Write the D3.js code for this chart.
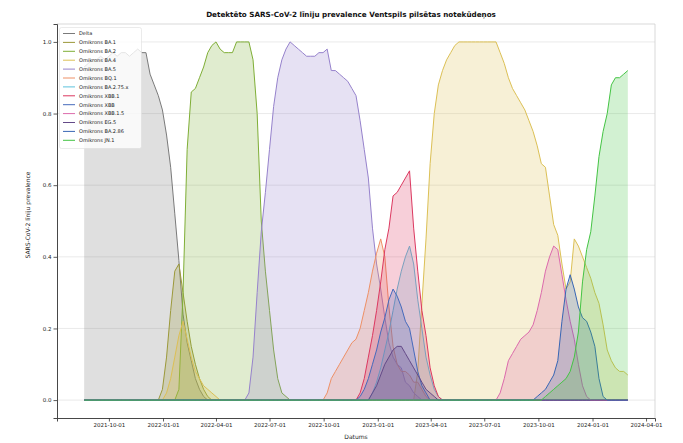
<!DOCTYPE html>
<html><head><meta charset="utf-8">
<script src="https://cdn.jsdelivr.net/npm/d3@7"></script>
<style>body{margin:0;background:#fff}svg{display:block;font-family:"DejaVu Sans",sans-serif}</style>
</head><body><svg id="c" width="683" height="443"></svg>
<script>
// ---- data ----
const titleText = "Detektēto SARS-CoV-2 līniju prevalence Ventspils pilsētas notekūdeņos";
const yLabelText = "SARS-CoV-2 līniju prevalence";
const xLabelText = "Datums";
const firstWeek = "2021-08-20";
const weekCount = 133;
const xTickLabels = ["2021-10-01","2022-01-01","2022-04-01","2022-07-01","2022-10-01","2023-01-01","2023-04-01","2023-07-01","2023-10-01","2024-01-01","2024-04-01"];
const yTicks = [0, 0.2, 0.4, 0.6, 0.8, 1.0];
const seriesNames = ["Delta","Omikrons BA.1","Omikrons BA.2","Omikrons BA.4","Omikrons BA.5","Omikrons BQ.1","Omikrons BA.2.75.x","Omikrons XBB.1","Omikrons XBB","Omikrons XBB.1.5","Omikrons EG.5","Omikrons BA.2.86","Omikrons JN.1"];
const seriesColors = ["#7a7a7a","#9c993a","#7fae36","#dcc055","#9682cc","#ee9066","#5cc2dc","#dc3860","#466abc","#dc6aac","#644a88","#3866b4","#44c444"];
// each series: segments of [first week index, weekly values]
const delta = [[0,[0.93,0.94,0.95,0.95,0.96,0.95,0.96,0.97,0.96,0.97,0.97,0.96,0.97,0.98,0.97,0.97,0.91,0.88,0.85,0.81,0.74,0.65,0.52,0.39,0.24,0.16,0.11,0.06,0.03,0.01]]];
const ba1 = [[18,[0.0,0.03,0.12,0.25,0.36,0.38,0.30,0.22,0.15,0.10,0.06,0.03,0.01]]];
const ba2 = [[22,[0.0,0.03,0.30,0.70,0.86,0.87,0.90,0.93,0.97,0.99,1.0,0.98,0.97,0.97,0.97,1.0,1.0,1.0,1.0,0.95,0.80,0.50,0.36,0.25,0.14,0.06,0.02,0.01]]];
const ba4 = [[20,[0.02,0.06,0.12,0.18,0.22,0.17,0.12,0.08,0.06,0.04,0.03,0.02,0.01]],
             [81,[0.08,0.27,0.45,0.66,0.80,0.88,0.92,0.95,0.97,0.99,1.0,1.0,1.0,1.0,1.0,1.0,1.0,1.0,1.0,1.0,0.97,0.94,0.90,0.87,0.85,0.83,0.81,0.78,0.75,0.71,0.66,0.65,0.57,0.49,0.46,0.38,0.31,0.33,0.45,0.43,0.40,0.37,0.34,0.30,0.27,0.21,0.14,0.11,0.09,0.08,0.08,0.07]]];
const ba5 = [[40,[0.02,0.12,0.30,0.47,0.58,0.70,0.82,0.90,0.95,0.98,1.0,0.99,0.98,0.97,0.96,0.96,0.96,0.97,0.97,0.98,0.92,0.92,0.91,0.90,0.89,0.87,0.85,0.78,0.70,0.62,0.48,0.38,0.31,0.23,0.16,0.12,0.10,0.09,0.05,0.04,0.02,0.01]]];
const bq1 = [[59,[0.02,0.06,0.08,0.10,0.12,0.14,0.16,0.17,0.20,0.25,0.30,0.36,0.41,0.45,0.40,0.26,0.15,0.10,0.08,0.08,0.07,0.05,0.05,0.03,0.01]]];
const ba275 = [[70,[0.02,0.05,0.09,0.14,0.19,0.25,0.31,0.36,0.40,0.43,0.38,0.28,0.20,0.12,0.07,0.03,0.01]]];
const xbb1 = [[67,[0.02,0.06,0.12,0.18,0.25,0.33,0.42,0.48,0.57,0.58,0.60,0.62,0.64,0.48,0.36,0.25,0.18,0.09,0.04,0.01]]];
const xbb = [[67,[0.01,0.03,0.06,0.10,0.14,0.19,0.23,0.28,0.31,0.29,0.26,0.22,0.20,0.14,0.08,0.04,0.02]]];
const xbb15 = [[101,[0.02,0.06,0.11,0.13,0.15,0.17,0.18,0.19,0.21,0.25,0.30,0.36,0.40,0.43,0.42,0.35,0.28,0.22,0.17,0.10,0.04,0.01]]];
const eg5 = [[70,[0.02,0.04,0.07,0.10,0.12,0.14,0.15,0.15,0.13,0.11,0.09,0.07,0.05,0.03,0.02,0.01]]];
const ba286 = [[110,[0.01,0.02,0.03,0.05,0.07,0.11,0.22,0.31,0.35,0.31,0.26,0.23,0.22,0.19,0.15,0.06,0.01]]];
const jn1 = [[112,[0.01,0.02,0.03,0.04,0.05,0.06,0.08,0.12,0.19,0.33,0.42,0.47,0.57,0.68,0.75,0.80,0.88,0.90,0.90,0.91,0.92]]];
const seriesSegments = [delta, ba1, ba2, ba4, ba5, bq1, ba275, xbb1, xbb, xbb15, eg5, ba286, jn1];

// ---- build ----
const parse = d3.timeParse("%Y-%m-%d");
const dates = d3.range(weekCount).map(i => d3.timeWeek.offset(parse(firstWeek), i));
const series = seriesSegments.map((segs, k) => {
  const vals = new Array(weekCount).fill(0);
  segs.forEach(([s, arr]) => arr.forEach((v, j) => { vals[s + j] = v; }));
  return {name: seriesNames[k], color: seriesColors[k], values: vals};
});

const L = 57, R = 655, T = 24, B = 418;
const t0 = dates[0], t1 = dates[dates.length - 1];
const pad = (t1 - t0) * 0.05;
const x = d3.scaleTime().domain([new Date(+t0 - pad), new Date(+t1 + pad)]).range([L, R]);
const y = d3.scaleLinear().domain([-0.05, 1.05]).range([B, T]);

const svg = d3.select("#c");
// grid
svg.append("g").selectAll("line").data(yTicks).join("line")
  .attr("x1", L).attr("x2", R).attr("y1", d => y(d)).attr("y2", d => y(d))
  .attr("stroke", "#e4e4e4").attr("stroke-width", 0.8);

const area = d3.area().x((d, i) => x(dates[i])).y0(y(0)).y1(d => y(d));
const line = d3.line().x((d, i) => x(dates[i])).y(d => y(d));
const plot = svg.append("g");
series.forEach(s => {
  plot.append("path").attr("d", area(s.values)).attr("fill", s.color).attr("fill-opacity", 0.24);
  plot.append("path").attr("d", line(s.values)).attr("fill", "none").attr("stroke", s.color).attr("stroke-width", 1);
});

// frame
svg.append("line").attr("x1", L).attr("x2", R).attr("y1", T).attr("y2", T).attr("stroke", "#cfcfcf").attr("stroke-width", 0.8);
svg.append("line").attr("x1", R).attr("x2", R).attr("y1", T).attr("y2", B).attr("stroke", "#cfcfcf").attr("stroke-width", 0.8);

// axes
const xAxis = svg.append("g").attr("transform", `translate(0,${B})`)
  .call(d3.axisBottom(x).tickValues(xTickLabels.map(parse)).tickFormat(d3.timeFormat("%Y-%m-%d")).tickSizeOuter(0).tickSize(3.5).tickPadding(2));
const yAxis = svg.append("g").attr("transform", `translate(${L},0)`)
  .call(d3.axisLeft(y).tickValues(yTicks).tickFormat(d3.format(".1f")).tickSizeOuter(0).tickSize(3.5).tickPadding(2));
[xAxis, yAxis].forEach(a => {
  a.select(".domain").attr("stroke", "#333").attr("stroke-width", 0.9);
  a.selectAll(".tick line").attr("stroke", "#333").attr("stroke-width", 0.8);
  a.selectAll("text").attr("font-size", 5.5).attr("fill", "#222").attr("font-family", "DejaVu Sans");
});

// labels
svg.append("text").attr("x", 351).attr("y", 17).attr("text-anchor", "middle")
  .attr("font-size", 7.2).attr("font-weight", "bold").attr("fill", "#111").text(titleText);
svg.append("text").attr("x", 356).attr("y", 439).attr("text-anchor", "middle")
  .attr("font-size", 6).attr("fill", "#222").text(xLabelText);
svg.append("text").attr("transform", `translate(30,${(T + B) / 2 - 6}) rotate(-90)`).attr("text-anchor", "middle")
  .attr("font-size", 6).attr("fill", "#222").text(yLabelText);

// legend
const lg = svg.append("g");
lg.append("rect").attr("x", 59.5).attr("y", 27.5).attr("width", 82).attr("height", 121).attr("rx", 2)
  .attr("fill", "#fff").attr("fill-opacity", 0.8).attr("stroke", "#ddd").attr("stroke-width", 0.6);
series.forEach((s, i) => {
  const yy = 33.5 + i * 8.9;
  lg.append("line").attr("x1", 63).attr("x2", 75).attr("y1", yy).attr("y2", yy).attr("stroke", s.color).attr("stroke-width", 1);
  lg.append("text").attr("x", 79).attr("y", yy + 1.8).attr("font-size", 5).attr("fill", "#222").text(s.name);
});
</script></body></html>
